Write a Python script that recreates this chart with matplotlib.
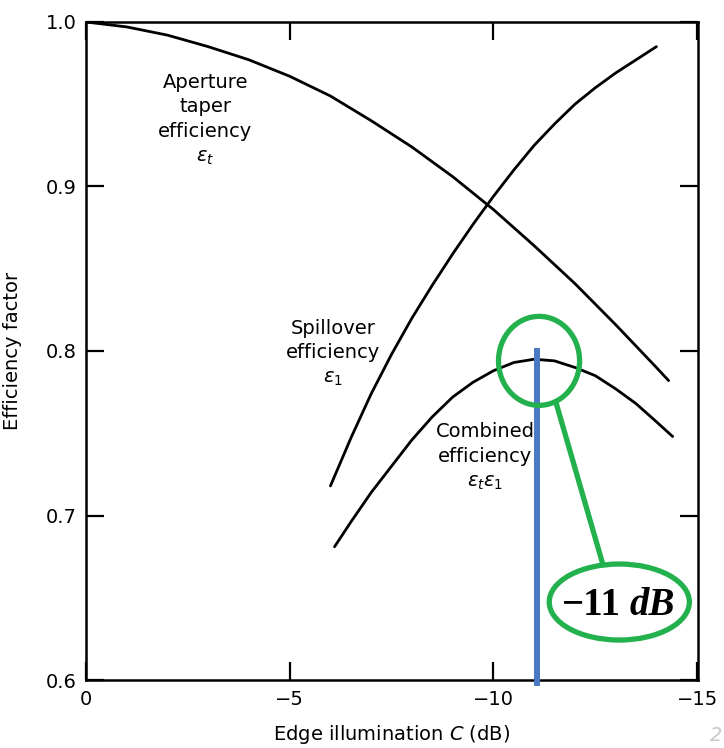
import numpy as np
import matplotlib.pyplot as plt
from matplotlib.patches import Ellipse

# ---------------------------------------------------------------------------
# Data
# ---------------------------------------------------------------------------
taper_db = [0, -1, -2, -3, -4, -5, -6, -7, -8, -9, -10, -11, -12, -13, -14, -14.3]
taper_eff = [1.000, 0.997, 0.992, 0.985, 0.977, 0.967, 0.955, 0.940, 0.924,
             0.906, 0.886, 0.864, 0.841, 0.816, 0.790, 0.782]

spill_db = [-6.0, -6.5, -7, -7.5, -8, -8.5, -9, -9.5, -10, -10.5, -11,
            -11.5, -12, -12.5, -13, -13.5, -14.0]
spill_eff = [0.718, 0.747, 0.774, 0.798, 0.820, 0.840, 0.859, 0.877, 0.894,
             0.910, 0.925, 0.938, 0.950, 0.960, 0.969, 0.977, 0.985]

comb_db = [-6.1, -6.5, -7, -7.5, -8, -8.5, -9, -9.5, -10, -10.5, -11,
           -11.5, -12, -12.5, -13, -13.5, -14, -14.4]
comb_eff = [0.681, 0.696, 0.714, 0.730, 0.746, 0.760, 0.772, 0.781, 0.788,
            0.793, 0.795, 0.794, 0.790, 0.785, 0.777, 0.768, 0.757, 0.748]

marker_db = -11.07        # highlighted edge illumination
marker_top = 0.802
marker_text = "\u221211"
marker_unit = "dB"

x_ticks = [0, -5, -10, -15]
x_ticklabels = ["0", "\u22125", "\u221210", "\u221215"]
y_ticks = [0.6, 0.7, 0.8, 0.9, 1.0]
y_ticklabels = ["0.6", "0.7", "0.8", "0.9", "1.0"]

GREEN = "#22b14c"
BLUE = "#4a78c2"

plt.rcParams["font.family"] = ["DejaVu Sans"]
plt.rcParams["mathtext.fontset"] = "dejavusans"

fig = plt.figure(figsize=(7.24, 7.48), dpi=100)
ax = fig.add_axes([0.1188, 0.0909, 0.8452, 0.8797])

# curves
line_kw = dict(color="black", lw=2.0, solid_capstyle="round",
               solid_joinstyle="round")
ax.plot(taper_db, taper_eff, **line_kw)
ax.plot(spill_db, spill_eff, **line_kw)
ax.plot(comb_db, comb_eff, **line_kw)

ax.set_xlim(0, -15.02)
ax.set_ylim(0.6, 1.0)

# ticks: inward on all four sides
ax.set_xticks(x_ticks)
ax.set_xticklabels(x_ticklabels)
ax.set_yticks(y_ticks)
ax.set_yticklabels(y_ticklabels)
ax.tick_params(direction="in", length=13, width=1.6, top=True, right=True,
               labelsize=14, pad=7)
for sp in ax.spines.values():
    sp.set_linewidth(1.8)

ax.set_xlabel("Edge illumination $C$ (dB)", fontsize=14, labelpad=10)
ax.set_ylabel("Efficiency factor", fontsize=14)
ax.yaxis.set_label_coords(-0.104, 0.5)

# curve labels
lab_kw = dict(ha="center", va="center", ma="center", fontsize=14,
              linespacing=1.38)
ax.text(-2.93, 0.9405, "Aperture\ntaper\nefficiency\n$\\epsilon_t$", **lab_kw)
ax.text(-6.07, 0.7985, "Spillover\nefficiency\n$\\epsilon_1$", **lab_kw)
ax.text(-9.80, 0.7356, "Combined\nefficiency\n$\\epsilon_t\\epsilon_1$", **lab_kw)

# highlight annotation
ax.plot([marker_db, marker_db], [0.5964, marker_top], color=BLUE, lw=4.3,
        solid_capstyle="butt", clip_on=False, zorder=5)
ax.add_patch(Ellipse((-11.12, 0.794), 1.99, 0.0541, fill=False,
                     edgecolor=GREEN, lw=3.8, zorder=6))
ax.add_patch(Ellipse((-13.09, 0.6474), 3.44, 0.0462, fill=False,
                     edgecolor=GREEN, lw=3.8, zorder=6))
ax.plot([-12.67, -11.56], [0.6717, 0.7666], color=GREEN, lw=3.8, zorder=6)

ax.text(-13.13, 0.6395, marker_text, ha="right", va="baseline", fontsize=28,
        family="Liberation Serif", fontweight="bold", zorder=7)
ax.text(-13.33, 0.6395, marker_unit, ha="left", va="baseline", fontsize=28,
        family="Liberation Serif", fontweight="bold", style="italic", zorder=7)

# faint page number at the lower right edge
fig.text(710 / 724, 1 - 741 / 748, "2", color="#c8c8c8", fontsize=14,
         style="italic", ha="left", va="baseline")

fig.savefig("out.png", dpi=100)
